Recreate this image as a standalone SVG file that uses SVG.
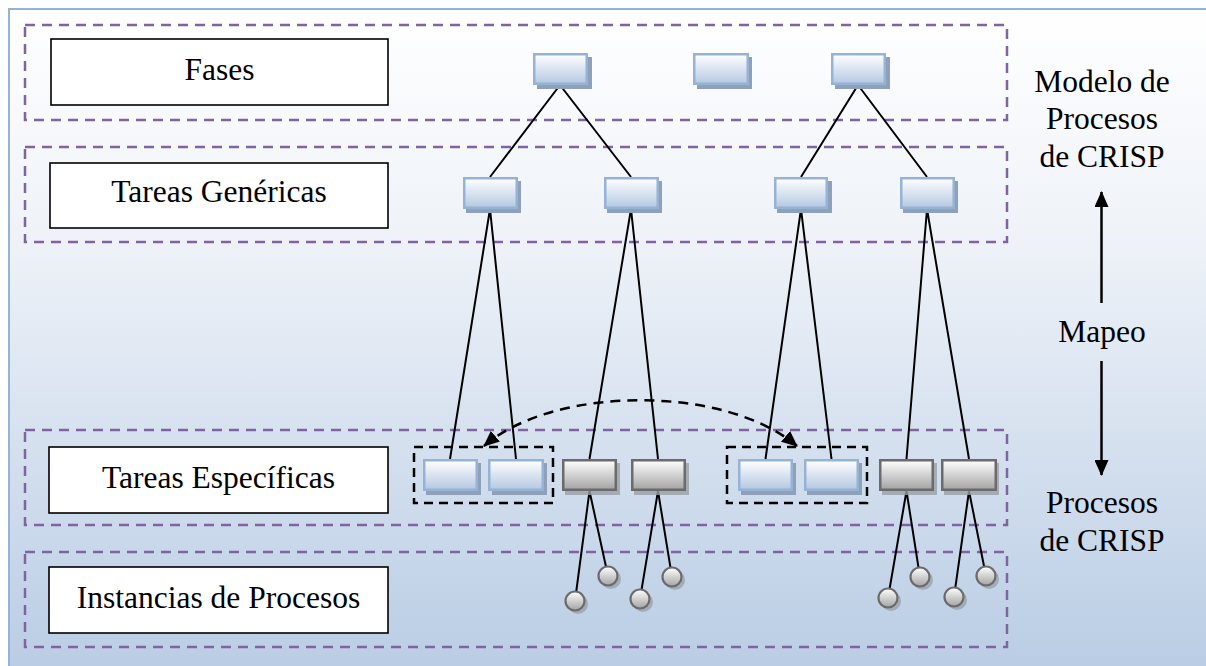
<svg xmlns="http://www.w3.org/2000/svg" width="1206" height="666" viewBox="0 0 1206 666">
<style>
.band{fill:none;stroke:#8064a2;stroke-width:2.5;stroke-dasharray:10 7}
.lbl{fill:#ffffff;stroke:#000000;stroke-width:1.6}
.txt{font-family:'Liberation Serif','Times New Roman',Tinos,'Nimbus Roman','DejaVu Serif','Noto Serif',serif;font-size:31.5px;fill:#000000;text-anchor:middle}
.bn{fill:url(#gBlue);stroke:#95b3d7;stroke-width:2.5}
.bs{fill:#8ea1b9}
.gn{fill:url(#gGray);stroke:#6b6b6b;stroke-width:2.5}
.gs{fill:#9a9fa6;opacity:0.8}
.ci{fill:url(#gGray);stroke:#6b6b6b;stroke-width:2.2}
.cs{fill:#9aa2ad;opacity:0.8}
.ln{stroke:#000000;stroke-width:2;fill:none}
.grp{fill:none;stroke:#000000;stroke-width:2.5;stroke-dasharray:9 6}
.cur{fill:none;stroke:#000000;stroke-width:2.5;stroke-dasharray:10 7}
.ar{stroke:#000000;stroke-width:2.5;fill:none}
</style>
<defs>
<linearGradient id="gBg" x1="0" y1="0" x2="0" y2="1">
<stop offset="0" stop-color="#ffffff"/>
<stop offset="0.35" stop-color="#eef2f8"/>
<stop offset="1" stop-color="#b8cce4"/>
</linearGradient>
<linearGradient id="gBlue" x1="0" y1="0" x2="0" y2="1">
<stop offset="0" stop-color="#ffffff"/>
<stop offset="1" stop-color="#b4c8e1"/>
</linearGradient>
<linearGradient id="gGray" x1="0" y1="0" x2="0" y2="1">
<stop offset="0" stop-color="#ffffff"/>
<stop offset="1" stop-color="#a3a3a3"/>
</linearGradient>
<marker id="ah" viewBox="0 0 16 14" refX="15" refY="7" markerUnits="userSpaceOnUse" markerWidth="16" markerHeight="14" orient="auto-start-reverse">
<path d="M0,0 L16,7 L0,14 Z" fill="#000000"/>
</marker>
</defs>

<rect id="frame" x="9" y="9" width="1210" height="670" fill="url(#gBg)" stroke="#95b3d7" stroke-width="2"/>

<g id="bands">
<rect class="band" x="25" y="25" width="982" height="95"/>
<rect class="band" x="25" y="147" width="982" height="95"/>
<rect class="band" x="25" y="430" width="982" height="95"/>
<rect class="band" x="25" y="552" width="982" height="95"/>
</g>

<g id="label-fases"><rect class="lbl" x="51" y="39" width="337" height="66"/><text class="txt" x="219.5" y="80">Fases</text></g>
<g id="label-genericas"><rect class="lbl" x="50" y="163" width="338" height="65"/><text class="txt" x="219" y="202">Tareas Genéricas</text></g>
<g id="label-especificas"><rect class="lbl" x="49" y="447" width="339" height="66"/><text class="txt" x="218.5" y="488">Tareas Específicas</text></g>
<g id="label-instancias"><rect class="lbl" x="49" y="567" width="339" height="66"/><text class="txt" x="218.5" y="608">Instancias de Procesos</text></g>

<g id="connectors">
<path class="ln" d="M560,85 L490,177 M560,85 L631,177"/>
<path class="ln" d="M858,85 L801,177 M858,85 L927,177"/>
<path class="ln" d="M490,209 L450,459 M490,209 L516,459"/>
<path class="ln" d="M631,209 L589.5,459 M631,209 L658,459"/>
<path class="ln" d="M801,209 L765.5,459 M801,209 L831.5,459"/>
<path class="ln" d="M927,209 L906.5,459 M927,209 L969,459"/>
<path class="ln" d="M589.5,491 L575,601 M589.5,491 L608,576"/>
<path class="ln" d="M658,491 L640,599 M658,491 L672,577"/>
<path class="ln" d="M906.5,491 L888,598 M906.5,491 L920,577"/>
<path class="ln" d="M969,491 L954,597 M969,491 L986,576"/>
<path id="map-link" class="cur" d="M484,446 C555,385 725,385 797,446" marker-start="url(#ah)" marker-end="url(#ah)"/>
<path id="arrow-up" class="ar" d="M1101.5,303 L1101.5,192" marker-end="url(#ah)"/>
<path id="arrow-down" class="ar" d="M1101.5,361 L1101.5,475" marker-end="url(#ah)"/>
</g>

<g id="fase-1"><rect class="bs" x="537" y="57" width="55" height="32"/><rect class="bn" x="534.25" y="54.25" width="52.5" height="29.5"/></g>
<g id="fase-2"><rect class="bs" x="697" y="57" width="55" height="32"/><rect class="bn" x="694.25" y="54.25" width="53.5" height="29.5"/></g>
<g id="fase-3"><rect class="bs" x="835" y="57" width="55" height="32"/><rect class="bn" x="832.25" y="54.25" width="52.5" height="29.5"/></g>

<g id="gen-1"><rect class="bs" x="466" y="181" width="55" height="32"/><rect class="bn" x="464.25" y="178.25" width="52.5" height="29.5"/></g>
<g id="gen-2"><rect class="bs" x="607" y="181" width="55" height="32"/><rect class="bn" x="605.25" y="178.25" width="52.5" height="29.5"/></g>
<g id="gen-3"><rect class="bs" x="777" y="181" width="55" height="32"/><rect class="bn" x="775.25" y="178.25" width="51.5" height="29.5"/></g>
<g id="gen-4"><rect class="bs" x="903" y="181" width="55" height="32"/><rect class="bn" x="901.25" y="178.25" width="52.5" height="29.5"/></g>

<g id="grupo-1"><rect class="grp" x="414" y="447" width="139" height="56"/></g>
<g id="grupo-2"><rect class="grp" x="727" y="447" width="140" height="56"/></g>

<g id="esp-1"><rect class="bs" x="426" y="463" width="55" height="32"/><rect class="bn" x="424.25" y="460.25" width="52.5" height="29.5"/></g>
<g id="esp-2"><rect class="bs" x="492" y="463" width="55" height="32"/><rect class="bn" x="489.25" y="460.25" width="53.5" height="29.5"/></g>
<g id="esp-3"><rect class="gs" x="565" y="463" width="55" height="32"/><rect class="gn" x="563.25" y="460.25" width="52.5" height="29.5"/></g>
<g id="esp-4"><rect class="gs" x="634" y="463" width="55" height="32"/><rect class="gn" x="632.25" y="460.25" width="52.5" height="29.5"/></g>
<g id="esp-5"><rect class="bs" x="741" y="463" width="55" height="32"/><rect class="bn" x="739.25" y="460.25" width="52.5" height="29.5"/></g>
<g id="esp-6"><rect class="bs" x="807" y="463" width="55" height="32"/><rect class="bn" x="805.25" y="460.25" width="52.5" height="29.5"/></g>
<g id="esp-7"><rect class="gs" x="882" y="463" width="55" height="32"/><rect class="gn" x="880.25" y="460.25" width="52.5" height="29.5"/></g>
<g id="esp-8"><rect class="gs" x="944" y="463" width="55" height="32"/><rect class="gn" x="942.25" y="460.25" width="53.5" height="29.5"/></g>

<g id="inst-1"><circle class="cs" cx="578" cy="604" r="10"/><circle class="ci" cx="575" cy="601" r="9.5"/></g>
<g id="inst-2"><circle class="cs" cx="611" cy="579" r="10"/><circle class="ci" cx="608" cy="576" r="9.5"/></g>
<g id="inst-3"><circle class="cs" cx="643" cy="602" r="10"/><circle class="ci" cx="640" cy="599" r="9.5"/></g>
<g id="inst-4"><circle class="cs" cx="675" cy="580" r="10"/><circle class="ci" cx="672" cy="577" r="9.5"/></g>
<g id="inst-5"><circle class="cs" cx="891" cy="601" r="10"/><circle class="ci" cx="888" cy="598" r="9.5"/></g>
<g id="inst-6"><circle class="cs" cx="923" cy="580" r="10"/><circle class="ci" cx="920" cy="577" r="9.5"/></g>
<g id="inst-7"><circle class="cs" cx="957" cy="600" r="10"/><circle class="ci" cx="954" cy="597" r="9.5"/></g>
<g id="inst-8"><circle class="cs" cx="989" cy="579" r="10"/><circle class="ci" cx="986" cy="576" r="9.5"/></g>

<g id="side-labels">
<text class="txt" x="1102" y="92">Modelo de</text>
<text class="txt" x="1102" y="129">Procesos</text>
<text class="txt" x="1102" y="167">de CRISP</text>
<text class="txt" x="1102" y="342">Mapeo</text>
<text class="txt" x="1102" y="513">Procesos</text>
<text class="txt" x="1102" y="551">de CRISP</text>
</g>
</svg>
